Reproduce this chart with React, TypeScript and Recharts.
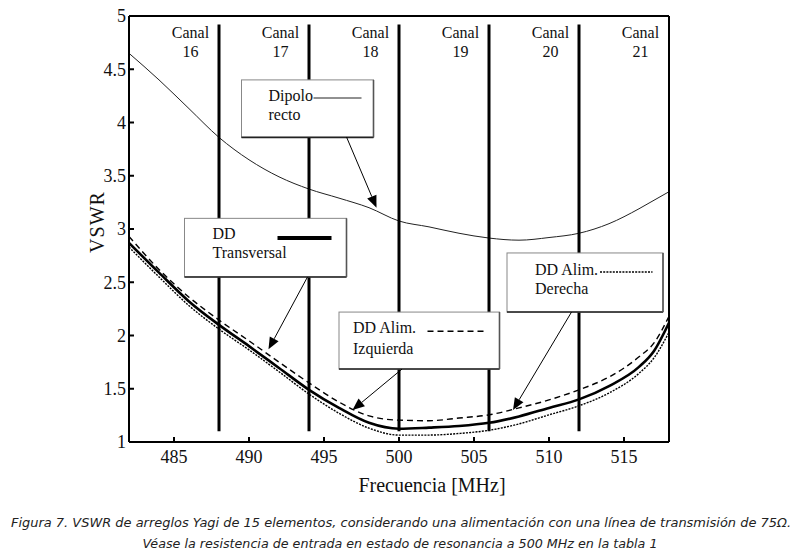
import React from "react"
import { LineChart, Line, XAxis, YAxis, ReferenceLine, ReferenceDot, Label } from "recharts"

// frequency points (MHz)
const freqs = [482, 484, 486, 488, 490, 492, 494, 496, 498, 500, 502, 504, 506, 508, 510, 512, 514, 516, 517, 518]
// VSWR
const dipoloRecto = [4.65, 4.4, 4.13, 3.86, 3.65, 3.49, 3.375, 3.29, 3.2, 3.075, 3.02, 2.96, 2.915, 2.895, 2.92, 2.96, 3.05, 3.19, 3.27, 3.35]
const ddTransversal = [2.87, 2.59, 2.32, 2.1, 1.9, 1.695, 1.49, 1.32, 1.18, 1.125, 1.135, 1.15, 1.18, 1.24, 1.32, 1.4, 1.525, 1.705, 1.855, 2.12]
const ddIzquierda = [2.93, 2.62, 2.36, 2.145, 1.95, 1.75, 1.555, 1.375, 1.245, 1.205, 1.2, 1.225, 1.255, 1.32, 1.395, 1.49, 1.61, 1.8, 1.93, 2.18]
const ddDerecha = [2.83, 2.55, 2.28, 2.06, 1.865, 1.66, 1.45, 1.27, 1.13, 1.065, 1.065, 1.08, 1.11, 1.17, 1.255, 1.34, 1.46, 1.645, 1.79, 2.03]

const xTicks = [485, 490, 495, 500, 505, 510, 515]
const yTicks = [1, 1.5, 2, 2.5, 3, 3.5, 4, 4.5, 5]
const channelEdges = [488, 494, 500, 506, 512]
const channels = ["16", "17", "18", "19", "20", "21"]
const channelStart = 482
const channelWidth = 6

const data = freqs.map((f, i) => ({
  f,
  dip: dipoloRecto[i],
  tr: ddTransversal[i],
  iz: ddIzquierda[i],
  de: ddDerecha[i],
}))

const serif = "'Liberation Serif', 'DejaVu Serif', serif"
const captionFont = "'DejaVu Sans Condensed', 'DejaVu Sans', sans-serif"

const lineStyles = {
  dip: { stroke: "#222", strokeWidth: 1 },
  tr: { stroke: "#000", strokeWidth: 2.6 },
  iz: { stroke: "#000", strokeWidth: 1.4, strokeDasharray: "6 4" },
  de: { stroke: "#000", strokeWidth: 1.4, strokeDasharray: "2 1.2" },
}

// annotation boxes, in data coordinates
const notes = [
  { key: "dip", text: ["Dipolo", "recto"], x: [489.5, 498.3], y: [4.4, 3.86], tx: 27, ty: [16, 35], sample: [494.3, 497.5, 4.23], arrow: [496.5, 3.864, 498.5, 3.2] },
  { key: "tr", text: ["DD", "Transversal"], x: [485.7, 496.5], y: [3.1, 2.55], tx: 28, ty: [15, 34], sample: [491.9, 495.5, 2.915], arrow: [493.9, 2.55, 491.3, 1.87] },
  { key: "iz", text: ["DD Alim.", "Izquierda"], x: [496.0, 506.7], y: [2.22, 1.685], tx: 14, ty: [15, 36], sample: [501.9, 505.9, 2.04], arrow: [500.2, 1.685, 496.9, 1.3] },
  { key: "de", text: ["DD Alim.", "Derecha"], x: [507.2, 517.6], y: [2.775, 2.22], tx: 28, ty: [17, 36], sample: [513.4, 516.9, 2.596], arrow: [511.5, 2.22, 507.6, 1.3] },
]

function boxShape(text: string[], tx: number, ty: number[]) {
  return (p: any) => {
    const left = Math.min(p.x1, p.x2)
    const right = Math.max(p.x1, p.x2)
    const top = Math.min(p.y1, p.y2)
    const bottom = Math.max(p.y1, p.y2)
    return (
      <g>
        <rect x={left} y={top} width={right - left} height={bottom - top} fill="#fff" stroke="#888" strokeWidth={1} />
        <line x1={left} y1={bottom} x2={right} y2={bottom} stroke="#222" strokeWidth={1.6} />
        <line x1={right} y1={top} x2={right} y2={bottom} stroke="#555" strokeWidth={1.6} />
        {text.map((t, i) => (
          <text key={t} x={left + tx} y={top + ty[i]} dominantBaseline="central" fontFamily={serif} fontSize={16} fill="#111">
            {t}
          </text>
        ))}
      </g>
    )
  }
}

function arrowShape(p: any) {
  const dx = p.x2 - p.x1
  const dy = p.y2 - p.y1
  const len = Math.sqrt(dx * dx + dy * dy)
  const ux = dx / len
  const uy = dy / len
  const hl = 12
  const hw = 5
  const bx = p.x2 - ux * hl
  const by = p.y2 - uy * hl
  return (
    <g>
      <line x1={p.x1} y1={p.y1} x2={bx} y2={by} stroke="#000" strokeWidth={1} />
      <polygon points={`${p.x2},${p.y2} ${bx - uy * hw},${by + ux * hw} ${bx + uy * hw},${by - ux * hw}`} fill="#000" />
    </g>
  )
}

export default function App() {
  return (
    <div style={{ position: "absolute", left: 0, top: 0, width: 800, height: 554, background: "#fff" }}>
      <LineChart width={800} height={500} data={data} margin={{ top: 6, right: 121, bottom: 18, left: 69 }}>
        <XAxis
          dataKey="f"
          type="number"
          domain={[482, 518]}
          ticks={xTicks}
          allowDataOverflow
          height={40}
          stroke="#000"
          strokeWidth={2}
          tickSize={-5}
          tickMargin={13}
          tick={{ fill: "#111", fontFamily: serif, fontSize: 18 }}
        >
          <Label
            content={({ viewBox }: any) => (
              <text x={viewBox.x + viewBox.width / 2 + 33} y={492} textAnchor="middle" fontFamily={serif} fontSize={20} fill="#111">
                Frecuencia [MHz]
              </text>
            )}
          />
        </XAxis>
        <XAxis xAxisId="top" orientation="top" dataKey="f" type="number" domain={[482, 518]} ticks={xTicks} height={10} stroke="#000" strokeWidth={2} tickSize={-5} tick={false} />
        <YAxis
          type="number"
          domain={[1, 5]}
          ticks={yTicks}
          width={60}
          stroke="#000"
          strokeWidth={2}
          tickSize={-5}
          tickMargin={8}
          tick={{ fill: "#111", fontFamily: serif, fontSize: 18 }}
        >
          <Label
            content={({ viewBox }: any) => {
              const cx = viewBox.x + 28
              const cy = viewBox.y + viewBox.height / 2 - 7
              return (
                <text x={cx} y={cy} transform={`rotate(-90, ${cx}, ${cy})`} textAnchor="middle" dominantBaseline="central" fontFamily={serif} fontSize={20} letterSpacing={1} fill="#111">
                  VSWR
                </text>
              )
            }}
          />
        </YAxis>
        <YAxis yAxisId="right" orientation="right" type="number" domain={[1, 5]} ticks={yTicks} width={10} stroke="#000" strokeWidth={2} tickSize={-5} tick={false} />

        <Line type="monotone" dataKey="dip" dot={false} isAnimationActive={false} {...lineStyles.dip} />
        <Line type="monotone" dataKey="iz" dot={false} isAnimationActive={false} {...lineStyles.iz} />
        <Line type="monotone" dataKey="de" dot={false} isAnimationActive={false} {...lineStyles.de} />
        <Line type="monotone" dataKey="tr" dot={false} isAnimationActive={false} {...lineStyles.tr} />

        {channelEdges.map((e) => (
          <ReferenceLine key={`ch${e}`} segment={[{ x: e, y: 1.1 }, { x: e, y: 4.92 }]} stroke="#000" strokeWidth={3} />
        ))}
        {channels.map((c, i) => {
          const cx = channelStart + channelWidth * i + channelWidth / 2 + 1.1
          return [
            <ReferenceDot key={`cl${c}`} x={cx} y={4.85} r={0} fill="none" stroke="none" label={{ value: "Canal", position: "center", fill: "#111", fontFamily: serif, fontSize: 16 }} />,
            <ReferenceDot key={`cn${c}`} x={cx} y={4.67} r={0} fill="none" stroke="none" label={{ value: c, position: "center", fill: "#111", fontFamily: serif, fontSize: 16 }} />,
          ]
        })}

        {notes.map((n) => (
          <ReferenceLine key={`box${n.key}`} segment={[{ x: n.x[0], y: n.y[0] }, { x: n.x[1], y: n.y[1] }]} shape={boxShape(n.text, n.tx, n.ty)} />
        ))}
        {notes.map((n) => (
          <ReferenceLine key={`smp${n.key}`} segment={[{ x: n.sample[0], y: n.sample[2] }, { x: n.sample[1], y: n.sample[2] }]} {...(lineStyles as any)[n.key]} strokeWidth={n.key === "tr" ? 4 : (lineStyles as any)[n.key].strokeWidth} />
        ))}
        {notes.map((n) => (
          <ReferenceLine key={`arr${n.key}`} segment={[{ x: n.arrow[0], y: n.arrow[1] }, { x: n.arrow[2], y: n.arrow[3] }]} shape={arrowShape} />
        ))}
      </LineChart>
      <svg width={800} height={54} style={{ display: "block" }}>
        <text x={401} y={27} textAnchor="middle" textLength={780} lengthAdjust="spacingAndGlyphs" fontFamily={captionFont} fontStyle="italic" fontSize={13} fill="#222">
          Figura 7. VSWR de arreglos Yagi de 15 elementos, considerando una alimentación con una línea de transmisión de 75Ω.
        </text>
        <text x={400} y={48} textAnchor="middle" textLength={515} lengthAdjust="spacingAndGlyphs" fontFamily={captionFont} fontStyle="italic" fontSize={13} fill="#222">
          Véase la resistencia de entrada en estado de resonancia a 500 MHz en la tabla 1
        </text>
      </svg>
    </div>
  )
}
